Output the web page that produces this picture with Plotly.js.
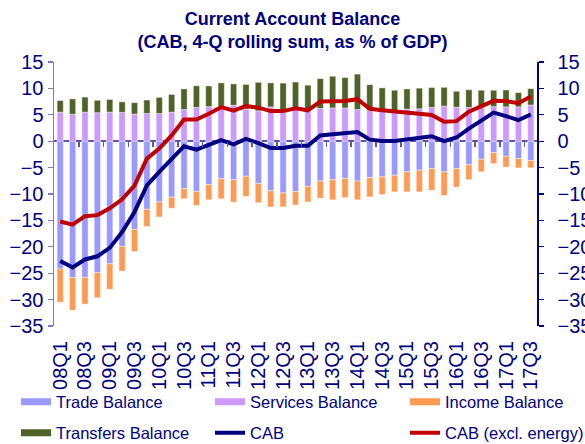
<!DOCTYPE html>
<html>
<head>
<meta charset="utf-8">
<script src="https://cdn.plot.ly/plotly-3.0.1.min.js"></script>
<style>html,body{margin:0;padding:0;background:#fff;}#chart{width:585px;height:444px;}</style>
</head>
<body>
<div id="chart"></div>
<script>
var quarters = ['08Q1','08Q2','08Q3','08Q4','09Q1','09Q2','09Q3','09Q4','10Q1','10Q2','10Q3','10Q4',
  '11Q1','11Q2','11Q3','11Q4','12Q1','12Q2','12Q3','12Q4','13Q1','13Q2','13Q3','13Q4',
  '14Q1','14Q2','14Q3','14Q4','15Q1','15Q2','15Q3','15Q4','16Q1','16Q2','16Q3','16Q4',
  '17Q1','17Q2','17Q3'];

var tradeBalance = [-24.2,-25.8,-25.8,-24.9,-23.2,-19.9,-16.7,-12.9,-11.5,-10.6,-9.0,-9.5,
  -8.2,-7.1,-7.3,-6.65,-8.0,-9.4,-9.8,-9.55,-8.55,-7.55,-7.3,-7.05,
  -7.55,-6.9,-6.75,-6.45,-5.8,-5.5,-5.2,-5.8,-5.2,-4.45,-3.4,-2.15,
  -2.85,-3.3,-3.65];

var servicesBalance = [5.5,5.1,5.5,5.4,5.5,5.45,5.15,5.25,5.25,5.5,6.0,6.4,
  6.55,6.65,6.8,6.1,5.75,6.5,5.5,6.4,6.1,6.2,6.3,6.3,
  6.0,5.8,5.9,5.7,6.1,6.15,6.4,6.65,6.45,6.4,6.4,6.55,
  6.5,6.5,6.85];

var incomeBalance = [-6.3,-6.2,-5.05,-4.75,-4.85,-4.7,-4.2,-3.25,-2.85,-2.1,-1.9,-2.65,
  -2.9,-3.8,-4.25,-3.8,-3.65,-3.05,-2.65,-2.55,-2.95,-3.25,-3.8,-3.65,
  -3.55,-3.65,-3.35,-3.15,-3.8,-4.1,-4.1,-4.45,-3.5,-2.85,-2.4,-2.1,
  -2.05,-1.75,-1.4];

var transfersBalance = [2.2,2.9,2.85,2.35,2.4,2.0,2.15,2.55,3.05,3.35,3.9,4.1,
  3.9,4.4,4.05,4.65,5.4,4.55,5.5,4.8,4.5,5.65,6.0,5.75,
  6.7,4.9,4.2,3.95,3.8,3.9,3.75,3.55,3.0,3.35,3.25,3.1,
  3.2,2.7,3.1];

var cab = [-22.7,-23.9,-22.4,-21.8,-20.2,-17.2,-13.4,-8.35,-5.8,-3.4,-0.95,-1.6,
  -0.8,0.2,-0.6,0.45,-0.35,-1.3,-1.3,-0.85,-0.85,1.1,1.3,1.45,
  1.75,0.3,0.05,0.05,0.3,0.55,0.95,0.0,0.7,2.4,3.8,5.4,
  4.75,4.0,5.05];

var cabExEnergy = [-15.2,-15.8,-14.2,-14.0,-12.7,-11.0,-8.4,-3.3,-1.4,1.1,4.1,4.1,
  5.2,6.45,5.8,6.65,6.35,5.7,5.7,6.25,5.85,7.5,7.55,7.6,
  7.95,6.15,5.85,5.65,5.3,5.15,4.95,3.7,3.8,5.6,6.6,7.65,
  7.6,7.2,8.45];

var seriesNames = ['Trade Balance','Services Balance','Income Balance','Transfers Balance','CAB','CAB (excl. energy)'];
var yTickVals = [-35,-30,-25,-20,-15,-10,-5,0,5,10,15];

var NAVY = '#000080';
var COLORS = {trade:'#9999FF', services:'#CC99FF', income:'#FF9A52', transfers:'#4F6228', cab:'#000080', cabx:'#C00000'};
var FONT = 'Liberation Sans, Arial, sans-serif';

var xLabelVals = quarters.filter(function(q, i){ return i % 2 === 0; });
var boundaryTicks = [];
for (var i = 1; i < quarters.length - 1; i += 2) boundaryTicks.push(i + 0.5);

function barTrace(name, vals, color) {
  return {type:'bar', name:name, x:quarters, y:vals, marker:{color:color, line:{width:0.6, color:'rgba(255,255,255,0.7)'}},
          showlegend:false, hoverinfo:'x+y+name'};
}
function legendDummy(name, color, width, legendId) {
  return {type:'scatter', mode:'lines', name:name, x:[null], y:[null], xaxis:'x2', yaxis:'y',
          line:{color:color, width:width}, legend:legendId, hoverinfo:'skip'};
}

var traces = [
  barTrace(seriesNames[0], tradeBalance, COLORS.trade),
  barTrace(seriesNames[1], servicesBalance, COLORS.services),
  barTrace(seriesNames[2], incomeBalance, COLORS.income),
  barTrace(seriesNames[3], transfersBalance, COLORS.transfers),
  legendDummy(seriesNames[0], COLORS.trade, 7, 'legend'),
  legendDummy(seriesNames[1], COLORS.services, 7, 'legend2'),
  legendDummy(seriesNames[2], COLORS.income, 7, 'legend3'),
  legendDummy(seriesNames[3], COLORS.transfers, 7, 'legend4'),
  {type:'scatter', mode:'lines', name:seriesNames[4], x:quarters, y:cab, xaxis:'x', yaxis:'y2',
   line:{color:COLORS.cab, width:4}, legend:'legend5'},
  {type:'scatter', mode:'lines', name:seriesNames[5], x:quarters, y:cabExEnergy, xaxis:'x', yaxis:'y2',
   line:{color:COLORS.cabx, width:4}, legend:'legend6'}
];

var yRange = [-35, 15];
var zeroPos = (0 - yRange[0]) / (yRange[1] - yRange[0]);

function legendAt(px, py) {
  return {orientation:'h', xref:'container', yref:'container', xanchor:'left', yanchor:'middle',
    x: px/585, y: 1 - py/444, font:{family:FONT, size:16.5, color:NAVY},
    bgcolor:'rgba(0,0,0,0)', borderwidth:0, itemclick:false, itemdoubleclick:false};
}

var layout = {
  width:585, height:444,
  margin:{l:54, r:48, t:62, b:118, pad:0},
  paper_bgcolor:'#ffffff', plot_bgcolor:'#ffffff',
  font:{family:FONT, color:NAVY},
  title:{text:'<b>Current Account Balance<br>(CAB, 4-Q rolling sum, as % of GDP)</b>',
         font:{family:FONT, size:18, color:NAVY}, xref:'container', x:0.5, xanchor:'center',
         yref:'container', y:1 - 25/444, yanchor:'top'},
  barmode:'relative', bargap:0.5,
  showlegend:true,
  legend: legendAt(16, 402),
  legend2: legendAt(210, 402),
  legend3: legendAt(405, 402),
  legend4: legendAt(16, 433),
  legend5: legendAt(210, 433),
  legend6: legendAt(405, 433),
  xaxis:{type:'category', categoryorder:'array', categoryarray:quarters, range:[-0.5, quarters.length - 0.5],
         tickmode:'array', tickvals:xLabelVals, ticktext:xLabelVals, tickangle:-90,
         tickfont:{family:FONT, size:20, color:NAVY}, ticks:'', showline:false, showgrid:false, zeroline:false,
         ticklabelstandoff:10, automargin:false, fixedrange:true},
  xaxis2:{overlaying:'x', anchor:'free', position:zeroPos, type:'linear', range:[-0.5, quarters.length - 0.5],
          tickmode:'array', tickvals:boundaryTicks, ticks:'outside', ticklen:5, tickwidth:1.5, tickcolor:'#5a5aa0',
          showticklabels:false, showline:false, showgrid:false, zeroline:false, fixedrange:true},
  yaxis:{range:yRange, tickmode:'array', tickvals:yTickVals, ticks:'outside', ticklen:5, tickwidth:1.2,
         tickcolor:'#7a7abf', showline:true, linecolor:'#7a7abf', linewidth:1.5, showgrid:false,
         zeroline:true, zerolinecolor:'#5a5aa0', zerolinewidth:2,
         tickfont:{family:FONT, size:20, color:NAVY}, automargin:false, fixedrange:true},
  yaxis2:{overlaying:'y', side:'right', range:yRange, tickmode:'array', tickvals:yTickVals, ticks:'outside',
          ticklen:5, tickwidth:1.2, tickcolor:NAVY, showline:true, linecolor:NAVY, linewidth:1.5,
          showgrid:false, zeroline:false, tickfont:{family:FONT, size:20, color:NAVY},
          ticklabelstandoff:10, automargin:false, fixedrange:true}
};

Plotly.newPlot('chart', traces, layout, {displayModeBar:false, staticPlot:true});
</script>
</body>
</html>
